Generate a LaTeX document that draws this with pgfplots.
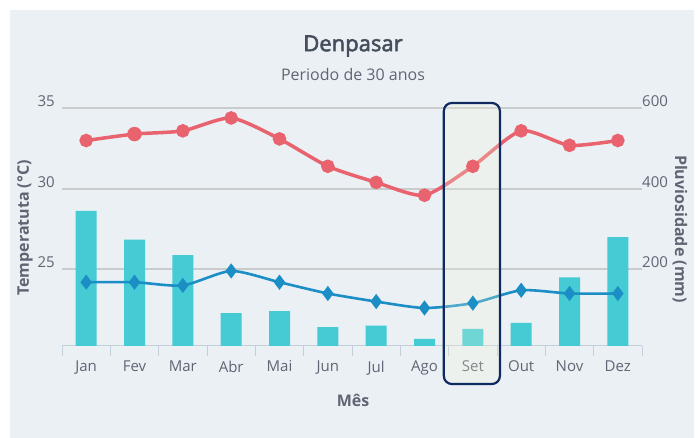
\documentclass[border=0pt]{standalone}
\usepackage{pgfplots}
\pgfplotsset{compat=1.18}
\usepackage{fontspec}
\setmainfont{Open Sans}
\newfontfamily\titlefont{Open Sans}[FakeBold=2.5]
\definecolor{panel}{HTML}{EBF0F5}
\definecolor{barcol}{HTML}{45CBD4}
\definecolor{redcol}{HTML}{E9636F}
\definecolor{bluecol}{HTML}{1B8EC6}
\definecolor{gridcol}{HTML}{C9CBCC}
\definecolor{axiscol}{HTML}{C3CFDB}
\definecolor{txt}{HTML}{5F6673}
\definecolor{ttl}{HTML}{454E5D}
\definecolor{navy}{HTML}{0E2A60}
\definecolor{hl}{HTML}{F0F6D8}
\begin{document}
\begin{tikzpicture}[x=1pt,y=1pt]
\fill[white] (0,0) rectangle (699,438);
\fill[panel] (10,0) rectangle (694,428);
\node[text=ttl, font=\fontsize{22}{24}\selectfont\titlefont] at (353,392) {Denpasar};
\node[text=txt, font=\fontsize{16}{18}\selectfont] at (353,363) {Periodo de 30 anos};
\node[text=txt, font=\fontsize{16}{18}\selectfont\bfseries, rotate=90] at (25,210) {Temperatuta (°C)};
\node[text=txt, font=\fontsize{16}{18}\selectfont\bfseries, rotate=-90] at (680,209) {Pluviosidade (mm)};
\node[text=txt, font=\fontsize{16}{18}\selectfont\bfseries] at (353,38) {Mês};
% precipitation axis (right)
\begin{axis}[at={(62pt,92pt)}, anchor=south west, scale only axis,
  width=580pt, height=237.7pt,
  xmin=-0.5, xmax=11.5, ymin=9.4, ymax=600,
  /pgf/number format/assume math mode=true,
  axis x line*=bottom, axis y line*=right,
  x axis line style={draw=axiscol, line width=1pt, -},
  y axis line style={draw=none},
  ytick={200,400,600}, ytick style={draw=none},
  ymajorgrids, grid style={draw=gridcol, line width=1.6pt},
  xtick={0,...,11}, xtick style={draw=none},
  xticklabels={Jan,Fev,Mar,Abr,Mai,Jun,Jul,Ago,Set,Out,Nov,Dez},
  minor xtick={-0.5,0.5,...,11.5}, xtick align=outside,
  minor tick length=10pt, minor x tick style={draw=axiscol, line width=1pt},
  xticklabel style={text=txt, font=\fontsize{15}{17}\selectfont, yshift=-7pt},
  yticklabel style={text=txt, font=\fontsize{15}{17}\selectfont, anchor=south west, inner sep=0pt, xshift=0pt, yshift=1pt},
  clip=false]
\addplot[ybar, bar width=21pt, fill=barcol, draw=none] coordinates {
 (0,345) (1,274) (2,235) (3,91) (4,96) (5,56) (6,60) (7,27) (8,52) (9,67) (10,180) (11,280)};
\end{axis}
% temperature axis (left)
\begin{axis}[at={(62pt,92pt)}, anchor=south west, scale only axis,
  width=580pt, height=237.7pt,
  xmin=-0.5, xmax=11.5, ymin=20.24, ymax=35,
  /pgf/number format/assume math mode=true,
  axis x line=none, axis y line*=left,
  y axis line style={draw=none},
  ytick={25,30,35}, ytick style={draw=none},
  yticklabel style={text=txt, font=\fontsize{15}{17}\selectfont, anchor=south east, inner sep=0pt, xshift=-7pt, yshift=1pt},
  clip=false]
\addplot[redcol, line width=3.5pt, smooth, tension=0.4, mark=*, mark size=5pt] coordinates {
 (0,33.0) (1,33.4) (2,33.6) (3,34.4) (4,33.1) (5,31.4) (6,30.4) (7,29.6) (8,31.4) (9,33.6) (10,32.7) (11,33.0)};
\addplot[redcol, only marks, mark=*, mark size=7pt] coordinates {(1,33.4)};
\addplot[bluecol, line width=2.6pt, smooth, tension=0.4, mark=diamond*, mark size=5.5pt] coordinates {
 (0,24.2) (1,24.2) (2,24.0) (3,24.9) (4,24.2) (5,23.5) (6,23.0) (7,22.6) (8,22.9) (9,23.7) (10,23.5) (11,23.5)};
\draw[draw=navy, line width=2.2pt, rounded corners=8pt, fill=hl, fill opacity=0.25] (axis cs:7.40,35.33) rectangle (axis cs:8.56,17.88);
\end{axis}
\pgfresetboundingbox
\path[use as bounding box] (0,0) rectangle (699,438);
\end{tikzpicture}
\end{document}
